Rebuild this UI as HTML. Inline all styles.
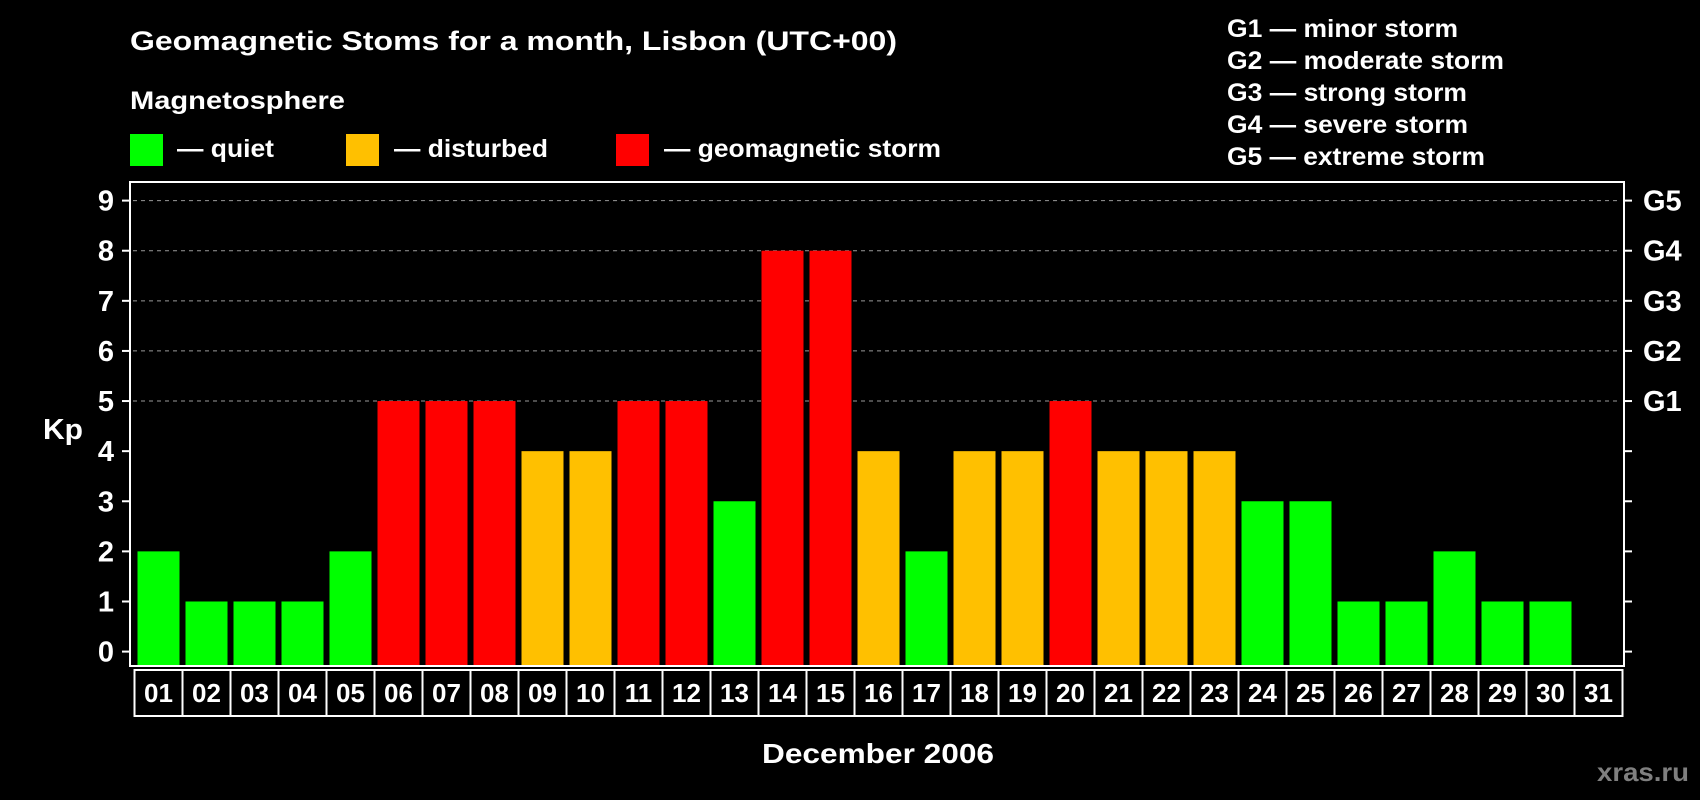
<!DOCTYPE html>
<html><head><meta charset="utf-8"><style>
html,body{margin:0;padding:0;background:#000;}
svg{display:block;font-family:"Liberation Sans",sans-serif;font-weight:bold;}
</style></head><body>
<svg id="c" width="1700" height="800" viewBox="0 0 1700 800">
<text x="130" y="50" fill="#fff" font-size="27" textLength="767" lengthAdjust="spacingAndGlyphs">Geomagnetic Stoms for a month, Lisbon (UTC+00)</text>
<text x="130" y="109" fill="#fff" font-size="25" textLength="215" lengthAdjust="spacingAndGlyphs">Magnetosphere</text>
<g>
<rect x="130" y="134" width="33" height="32" fill="#00ff00"/>
<text x="177" y="157" fill="#fff" font-size="25" textLength="97" lengthAdjust="spacingAndGlyphs">— quiet</text>
<rect x="346" y="134" width="33" height="32" fill="#ffc000"/>
<text x="394" y="157" fill="#fff" font-size="25" textLength="154" lengthAdjust="spacingAndGlyphs">— disturbed</text>
<rect x="616" y="134" width="33" height="32" fill="#ff0000"/>
<text x="664" y="157" fill="#fff" font-size="25" textLength="277" lengthAdjust="spacingAndGlyphs">— geomagnetic storm</text>
</g>
<g fill="#fff" font-size="25">
<text x="1227" y="37" textLength="231" lengthAdjust="spacingAndGlyphs">G1 — minor storm</text>
<text x="1227" y="69" textLength="277" lengthAdjust="spacingAndGlyphs">G2 — moderate storm</text>
<text x="1227" y="101" textLength="240" lengthAdjust="spacingAndGlyphs">G3 — strong storm</text>
<text x="1227" y="133" textLength="241" lengthAdjust="spacingAndGlyphs">G4 — severe storm</text>
<text x="1227" y="165" textLength="258" lengthAdjust="spacingAndGlyphs">G5 — extreme storm</text>
</g>
<text x="43" y="439" fill="#fff" font-size="29" textLength="40" lengthAdjust="spacingAndGlyphs">Kp</text>
<text x="762" y="763" fill="#fff" font-size="28" textLength="232" lengthAdjust="spacingAndGlyphs">December 2006</text>
<text x="1597" y="781" fill="#7f7f7f" font-size="26" textLength="92" lengthAdjust="spacingAndGlyphs">xras.ru</text>
<g id="plot"></g>
</svg>
<script>
const days=["01","02","03","04","05","06","07","08","09","10","11","12","13","14","15","16","17","18","19","20","21","22","23","24","25","26","27","28","29","30","31"];
const kpValues=[2,1,1,1,2,5,5,5,4,4,5,5,3,8,8,4,2,4,4,5,4,4,4,3,3,1,1,2,1,1,null];
const yTicks=[0,1,2,3,4,5,6,7,8,9];
const gLabels=["","","","","","G1","G2","G3","G4","G5"];
const NS="http://www.w3.org/2000/svg";
const plot=document.getElementById('plot');
const L=130,R=1624,T=182,B=666,slot0=134.5,slotW=48;
const y=v=>651.6-v*(451/9);
const x=i=>slot0+i*slotW;
function mk(tag,attrs){const e=document.createElementNS(NS,tag);for(const k in attrs)e.setAttribute(k,attrs[k]);plot.appendChild(e);return e;}
yTicks.forEach((v,i)=>{
  if(v>=5){const g=mk('line',{x1:L+3,x2:R-3,y1:y(v),y2:y(v),stroke:'#9a9a9a','stroke-width':1,'stroke-dasharray':'4,4'});
  
  }
  const t1=mk('line',{x1:L-8,x2:L,y1:y(v),y2:y(v),stroke:'#fff','stroke-width':2});
  
  
  const t2=mk('line',{x1:R,x2:R+8,y1:y(v),y2:y(v),stroke:'#fff','stroke-width':2});
  
  
  const tl=mk('text',{x:106,y:y(v)+10,fill:'#fff','font-size':29,'text-anchor':'middle'});
  tl.textContent=v;
  
  
  if(gLabels[i]){const gl=mk('text',{x:1643,y:y(v)+10,fill:'#fff','font-size':29});
  gl.textContent=gLabels[i];
  
  }
});
kpValues.forEach((v,i)=>{
  if(v!==null&&v>0){
    const col=v>=5?'#ff0000':(v>=4?'#ffc000':'#00ff00');
    const b=mk('rect',{x:x(i)+3,y:y(v),width:42,height:B-y(v),fill:col});
    
    
  }
  const bx=mk('rect',{x:x(i),y:670,width:slotW,height:46,fill:'none',stroke:'#fff','stroke-width':2});
  
  
  const tx=mk('text',{x:x(i)+slotW/2,y:702,fill:'#fff','font-size':26,'text-anchor':'middle'});
  tx.textContent=days[i];
  
  
});
const frame=mk('rect',{x:L,y:T,width:R-L,height:B-T,fill:'none',stroke:'#fff','stroke-width':2});


</script>
</body></html>
